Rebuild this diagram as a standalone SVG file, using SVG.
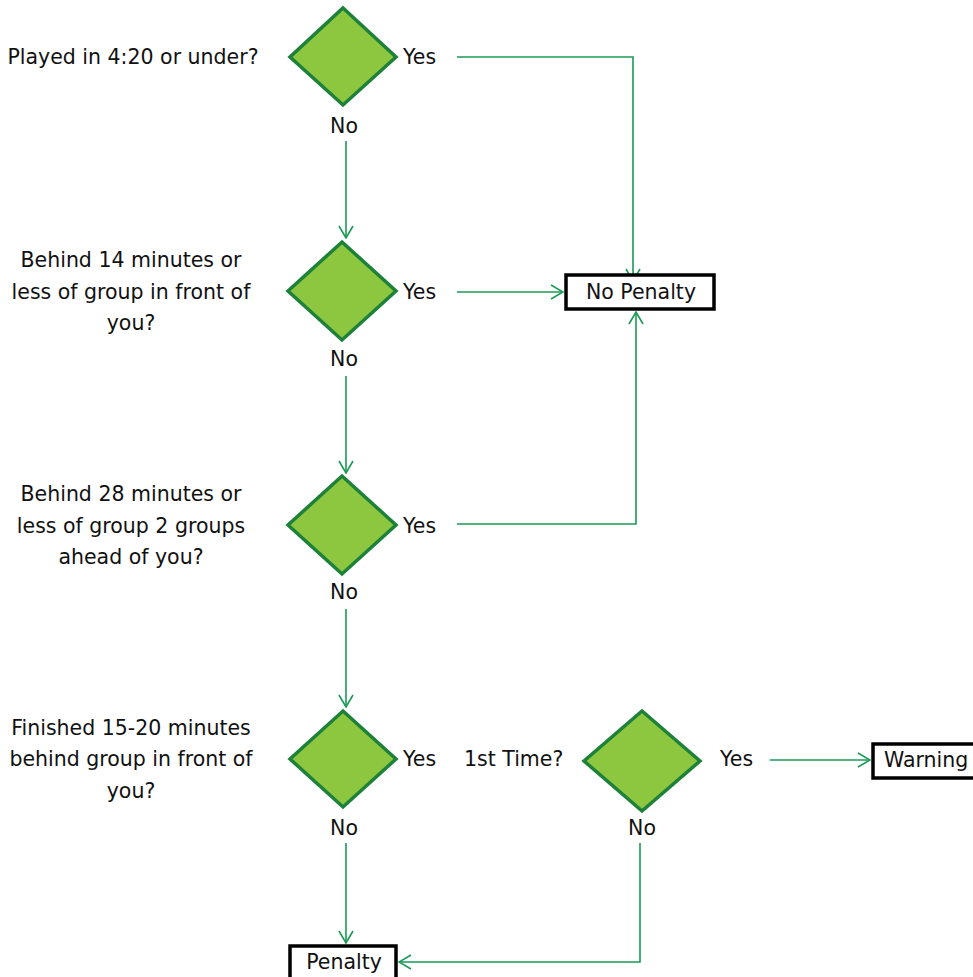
<svg xmlns="http://www.w3.org/2000/svg" width="973" height="977" viewBox="0 0 973 977">
<defs>
<style>
.t{font-family:"DejaVu Sans","Liberation Sans",sans-serif;font-size:20.5px;fill:#111;}
.m{text-anchor:middle;}
.d{fill:#8dc63f;stroke:#1d8139;stroke-width:3.5;stroke-linejoin:miter;}
.b{fill:#fff;stroke:#000;stroke-width:3.5;}
.c{fill:none;stroke:#1b9a55;stroke-width:1.6;}
</style>
<marker id="a" viewBox="0 0 16 16" refX="15" refY="8" markerWidth="16" markerHeight="16" markerUnits="userSpaceOnUse" orient="auto">
<path d="M3,1 L15,8 L3,15" fill="none" stroke="#1b9a55" stroke-width="1.6"/>
</marker>
</defs>
<rect width="973" height="977" fill="#fff"/>
<g id="connectors">
<path class="c" d="M457,57 H633 V281" marker-end="url(#a)"/>
<path class="c" d="M457,292 H563" marker-end="url(#a)"/>
<path class="c" d="M457,524 H636 V312" marker-end="url(#a)"/>
<path class="c" d="M346,141 V238" marker-end="url(#a)"/>
<path class="c" d="M346,376 V473" marker-end="url(#a)"/>
<path class="c" d="M346,609 V707" marker-end="url(#a)"/>
<path class="c" d="M346,843 V943" marker-end="url(#a)"/>
<path class="c" d="M640,843 V962 H399" marker-end="url(#a)"/>
<path class="c" d="M770,760 H870" marker-end="url(#a)"/>
</g>
<g id="q1">
<text class="t m" x="133" y="64">Played in 4:20 or under?</text>
<polygon class="d" points="343,8 396,57 343,105 290,57"/>
<text class="t" x="403" y="64">Yes</text>
<text class="t m" x="344" y="133">No</text>
</g>
<g id="q2">
<text class="t m" x="131" y="267">Behind 14 minutes or</text>
<text class="t m" x="131" y="299">less of group in front of</text>
<text class="t m" x="131" y="330">you?</text>
<polygon class="d" points="342,242 396,291 342,340 288,291"/>
<text class="t" x="403" y="299">Yes</text>
<text class="t m" x="344" y="366">No</text>
</g>
<g id="q3">
<text class="t m" x="131" y="501">Behind 28 minutes or</text>
<text class="t m" x="131" y="533">less of group 2 groups</text>
<text class="t m" x="131" y="564">ahead of you?</text>
<polygon class="d" points="342,476 396,525 342,574 288,525"/>
<text class="t" x="403" y="533">Yes</text>
<text class="t m" x="344" y="599">No</text>
</g>
<g id="q4">
<text class="t m" x="131" y="735">Finished 15-20 minutes</text>
<text class="t m" x="131" y="766">behind group in front of</text>
<text class="t m" x="131" y="798">you?</text>
<polygon class="d" points="343,711 396,759 343,807 290,759"/>
<text class="t" x="403" y="766">Yes</text>
<text class="t m" x="344" y="835">No</text>
</g>
<g id="q5">
<text class="t" x="464" y="766">1st Time?</text>
<polygon class="d" points="642,711 700,761 642,811 584,761"/>
<text class="t" x="720" y="766">Yes</text>
<text class="t m" x="642" y="835">No</text>
</g>
<g id="nopenalty">
<rect class="b" x="566" y="275" width="148" height="34"/>
<text class="t m" x="641" y="299">No Penalty</text>
</g>
<g id="warning">
<rect class="b" x="873" y="744" width="104" height="34"/>
<text class="t" x="884" y="767">Warning</text>
</g>
<g id="penalty">
<rect class="b" x="290" y="946" width="106" height="40"/>
<text class="t m" x="344" y="969">Penalty</text>
</g>
</svg>
